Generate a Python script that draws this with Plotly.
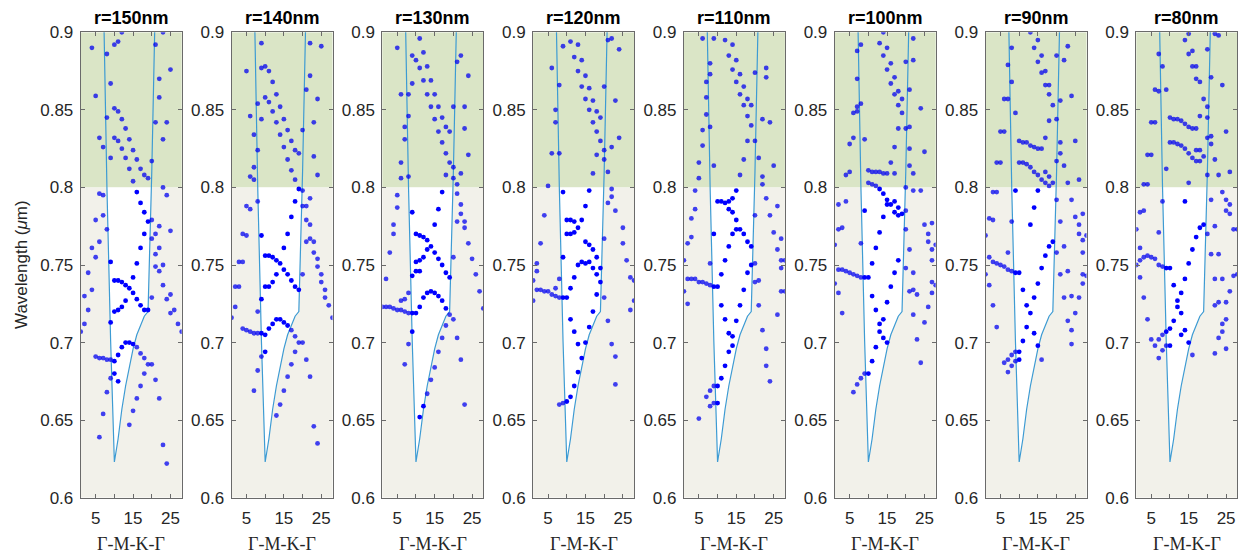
import numpy as np
import plotly.graph_objects as go

# ---------------- data ----------------
K = [1, 2, 3, 4, 5, 6, 7, 8, 9, 10, 11, 12, 13, 14, 15, 16, 17, 18, 19, 20,
     21, 22, 23, 24, 25, 26, 27, 28]
RADII = ["r=150nm", "r=140nm", "r=130nm", "r=120nm", "r=110nm", "r=100nm", "r=90nm", "r=80nm"]

# wavelengths (um) of the bands at each k-point (index = K)
lam_r150 = [
    [0.707], [0.730, 0.712], [0.745, 0.721], [0.890, 0.761, 0.734],
    [0.859, 0.779, 0.755, 0.691], [0.832, 0.796, 0.765, 0.690, 0.639],
    [0.826, 0.795, 0.782, 0.690, 0.654], [0.886, 0.845, 0.773, 0.689, 0.668],
    [0.867, 0.819, 0.752, 0.713, 0.689, 0.677],
    [0.892, 0.851, 0.832, 0.740, 0.720, 0.688, 0.680],
    [0.894, 0.849, 0.830, 0.740, 0.721, 0.692, 0.675],
    [0.900, 0.844, 0.825, 0.739, 0.723, 0.697],
    [0.838, 0.819, 0.737, 0.727, 0.700], [0.831, 0.812, 0.735, 0.700, 0.647],
    [0.824, 0.804, 0.742, 0.732, 0.699, 0.656], [0.818, 0.797, 0.751, 0.728, 0.697, 0.664],
    [0.812, 0.790, 0.761, 0.724, 0.693, 0.672], [0.808, 0.784, 0.770, 0.721, 0.690, 0.680],
    [0.806, 0.778, 0.721, 0.686], [0.817, 0.779, 0.767, 0.729, 0.686],
    [0.892, 0.842, 0.770, 0.757, 0.749, 0.676], [0.870, 0.858, 0.775, 0.761, 0.746, 0.664],
    [0.900, 0.831, 0.800, 0.750, 0.737, 0.634], [0.842, 0.795, 0.728, 0.622],
    [0.876, 0.772, 0.731, 0.719], [0.721], [0.712], [0.707]]

lam_r140 = [
    [0.716], [0.736, 0.723], [0.752, 0.736], [0.770, 0.752, 0.709],
    [0.875, 0.788, 0.769, 0.708], [0.846, 0.807, 0.786, 0.707],
    [0.834, 0.813, 0.805, 0.706, 0.669], [0.854, 0.824, 0.791, 0.720, 0.706, 0.682],
    [0.893, 0.877, 0.844, 0.769, 0.728, 0.706, 0.691],
    [0.878, 0.858, 0.756, 0.736, 0.705, 0.694], [0.875, 0.855, 0.756, 0.736, 0.709],
    [0.868, 0.849, 0.755, 0.739, 0.712], [0.860, 0.842, 0.753, 0.744, 0.715, 0.653],
    [0.852, 0.834, 0.751, 0.715, 0.660], [0.844, 0.826, 0.761, 0.747, 0.713, 0.669],
    [0.837, 0.818, 0.770, 0.744, 0.711, 0.678], [0.830, 0.811, 0.781, 0.740, 0.708, 0.686],
    [0.824, 0.805, 0.791, 0.736, 0.704, 0.694], [0.822, 0.799, 0.734, 0.700],
    [0.837, 0.798, 0.788, 0.744, 0.700], [0.863, 0.788, 0.779, 0.765, 0.689],
    [0.893, 0.872, 0.793, 0.776, 0.767, 0.678], [0.842, 0.820, 0.765, 0.758, 0.646],
    [0.857, 0.808, 0.754, 0.749, 0.635], [0.891, 0.744, 0.739], [0.734, 0.729],
    [0.724], [0.716]]

lam_r130 = [
    [0.723], [0.741, 0.723], [0.758, 0.723], [0.776, 0.770, 0.722],
    [0.890, 0.795, 0.787, 0.721], [0.860, 0.816, 0.806, 0.727, 0.721],
    [0.839, 0.831, 0.728, 0.720, 0.686], [0.860, 0.846, 0.807, 0.732, 0.719, 0.699],
    [0.885, 0.867, 0.784, 0.743, 0.719, 0.707], [0.882, 0.770, 0.752, 0.746, 0.719],
    [0.896, 0.877, 0.769, 0.753, 0.746, 0.723, 0.652],
    [0.887, 0.869, 0.768, 0.755, 0.729, 0.659], [0.878, 0.860, 0.766, 0.760, 0.732, 0.667],
    [0.869, 0.852, 0.762, 0.733, 0.676], [0.860, 0.844, 0.776, 0.758, 0.732, 0.684],
    [0.852, 0.836, 0.786, 0.754, 0.730, 0.694], [0.845, 0.829, 0.797, 0.750, 0.727, 0.703],
    [0.839, 0.822, 0.808, 0.745, 0.722, 0.711], [0.836, 0.816, 0.742, 0.718],
    [0.852, 0.813, 0.806, 0.755, 0.715], [0.881, 0.802, 0.796, 0.778, 0.703],
    [0.885, 0.809, 0.789, 0.783, 0.689], [0.852, 0.838, 0.778, 0.774, 0.660],
    [0.872, 0.821, 0.764], [0.754], [0.744], [0.733], [0.722]]

lam_r120 = [
    [0.740, 0.727], [0.751, 0.746, 0.734], [0.764, 0.734], [0.782, 0.733],
    [0.801, 0.733], [0.877, 0.822, 0.731], [0.850, 0.842, 0.735, 0.730],
    [0.866, 0.822, 0.741, 0.729, 0.660], [0.891, 0.797, 0.755, 0.729, 0.661],
    [0.779, 0.770, 0.729, 0.662], [0.894, 0.779, 0.770, 0.735, 0.715, 0.665],
    [0.884, 0.778, 0.771, 0.742, 0.707, 0.672], [0.892, 0.875, 0.774, 0.750, 0.699, 0.681],
    [0.882, 0.865, 0.779, 0.752, 0.690], [0.872, 0.857, 0.788, 0.765, 0.751, 0.700],
    [0.864, 0.850, 0.798, 0.763, 0.752, 0.710], [0.856, 0.842, 0.809, 0.760, 0.748, 0.720],
    [0.849, 0.836, 0.821, 0.755, 0.744, 0.731], [0.845, 0.830, 0.748, 0.739],
    [0.865, 0.824, 0.818, 0.767, 0.729], [0.895, 0.810, 0.790, 0.714],
    [0.896, 0.826, 0.799, 0.794, 0.699], [0.856, 0.785, 0.691, 0.673], [0.889, 0.832],
    [0.774, 0.764], [0.753], [0.742, 0.721], [0.740, 0.727]]

lam_r110 = [
    [0.753, 0.733], [0.764, 0.741, 0.725], [0.780, 0.768, 0.741], [0.798, 0.786, 0.741],
    [0.816, 0.806, 0.739, 0.651], [0.896, 0.837, 0.827, 0.739],
    [0.868, 0.858, 0.847, 0.738, 0.665], [0.880, 0.873, 0.839, 0.751, 0.737, 0.669, 0.659],
    [0.896, 0.814, 0.770, 0.736, 0.672, 0.661], [0.791, 0.736, 0.672, 0.661],
    [0.791, 0.744, 0.724, 0.677], [0.895, 0.790, 0.753, 0.715, 0.685],
    [0.885, 0.791, 0.786, 0.762, 0.706, 0.694], [0.892, 0.876, 0.793, 0.784, 0.770, 0.704, 0.698],
    [0.882, 0.868, 0.798, 0.779, 0.773, 0.714], [0.873, 0.860, 0.808, 0.773, 0.724],
    [0.865, 0.853, 0.818, 0.770, 0.734], [0.857, 0.846, 0.830, 0.765, 0.745],
    [0.853, 0.840, 0.762, 0.750], [0.874, 0.830, 0.782, 0.751, 0.739], [0.819, 0.740, 0.724],
    [0.844, 0.807, 0.802, 0.708], [0.877, 0.871, 0.793, 0.696, 0.685], [0.842, 0.782, 0.675],
    [0.814, 0.771], [0.788, 0.760, 0.718], [0.767, 0.753, 0.748, 0.733], [0.753, 0.733]]

lam_r100 = [
    [0.763, 0.738], [0.789, 0.773, 0.747, 0.732], [0.774, 0.747, 0.719], [0.808, 0.791, 0.746],
    [0.828, 0.810, 0.745], [0.848, 0.832, 0.744, 0.668], [0.888, 0.870, 0.852, 0.849, 0.743, 0.673],
    [0.892, 0.854, 0.764, 0.742, 0.677], [0.831, 0.785, 0.742, 0.680], [0.811, 0.803, 0.742, 0.680],
    [0.810, 0.802, 0.751, 0.730, 0.688], [0.810, 0.801, 0.761, 0.721, 0.697],
    [0.893, 0.810, 0.799, 0.771, 0.712, 0.707], [0.900, 0.885, 0.809, 0.796, 0.781, 0.715, 0.703],
    [0.890, 0.876, 0.809, 0.792, 0.789, 0.726, 0.700], [0.880, 0.867, 0.816, 0.789, 0.736],
    [0.871, 0.860, 0.826, 0.809, 0.791, 0.784, 0.745], [0.862, 0.853, 0.838, 0.787, 0.782, 0.753],
    [0.857, 0.848, 0.783], [0.881, 0.838, 0.800, 0.785, 0.773, 0.748],
    [0.863, 0.839, 0.825, 0.814, 0.760, 0.733], [0.896, 0.882, 0.809, 0.798, 0.745, 0.734, 0.718],
    [0.731, 0.702], [0.851, 0.798, 0.687], [0.823, 0.776, 0.713], [0.770, 0.765, 0.723],
    [0.777, 0.760, 0.753, 0.739, 0.732], [0.763, 0.737]]

lam_r90 = [
    [0.769, 0.744], [0.780, 0.755, 0.737], [0.797, 0.779, 0.752, 0.724], [0.816, 0.797, 0.751, 0.710],
    [0.836, 0.816, 0.750], [0.857, 0.836, 0.749, 0.687], [0.879, 0.857, 0.758, 0.747, 0.689, 0.681],
    [0.890, 0.868, 0.778, 0.746, 0.692, 0.685], [0.848, 0.798, 0.745, 0.694, 0.688],
    [0.830, 0.816, 0.745, 0.694, 0.689], [0.829, 0.816, 0.734, 0.701], [0.829, 0.815, 0.724, 0.710],
    [0.900, 0.827, 0.813, 0.776, 0.719], [0.890, 0.826, 0.810, 0.787, 0.729, 0.706],
    [0.895, 0.881, 0.825, 0.808, 0.798, 0.738, 0.698], [0.885, 0.874, 0.825, 0.805, 0.748, 0.689],
    [0.875, 0.866, 0.832, 0.810, 0.803, 0.756], [0.866, 0.860, 0.843, 0.807, 0.801, 0.762],
    [0.853, 0.803, 0.765], [0.885, 0.844, 0.817, 0.792, 0.758], [0.856, 0.829, 0.822, 0.778, 0.744],
    [0.882, 0.814, 0.762, 0.729], [0.891, 0.803, 0.746, 0.714], [0.859, 0.792, 0.730, 0.708, 0.699],
    [0.830, 0.781, 0.719], [0.805, 0.776, 0.770, 0.729], [0.783, 0.766, 0.758, 0.744, 0.738],
    [0.769, 0.743]]

lam_r80 = [
    [0.773, 0.750], [0.784, 0.761, 0.753, 0.742], [0.802, 0.785, 0.755, 0.729],
    [0.821, 0.802, 0.756, 0.715], [0.842, 0.821, 0.755, 0.702], [0.863, 0.842, 0.754, 0.698],
    [0.886, 0.862, 0.771, 0.750, 0.702, 0.690], [0.878, 0.791, 0.749, 0.705, 0.695],
    [0.863, 0.812, 0.748, 0.707, 0.698], [0.845, 0.829, 0.748, 0.709, 0.698],
    [0.844, 0.829, 0.737, 0.714], [0.844, 0.828, 0.727, 0.723], [0.843, 0.827, 0.732, 0.719, 0.705],
    [0.895, 0.841, 0.825, 0.791, 0.741, 0.708], [0.899, 0.886, 0.839, 0.822, 0.803, 0.751, 0.700],
    [0.888, 0.878, 0.838, 0.819, 0.760, 0.692], [0.878, 0.870, 0.838, 0.824, 0.817, 0.768],
    [0.868, 0.846, 0.824, 0.817, 0.774], [0.857, 0.820, 0.776],
    [0.889, 0.852, 0.845, 0.832, 0.808, 0.770], [0.871, 0.833, 0.828, 0.792, 0.757],
    [0.899, 0.818, 0.775, 0.741, 0.724, 0.693], [0.898, 0.808, 0.757, 0.726, 0.703],
    [0.866, 0.797, 0.741, 0.712, 0.707], [0.836, 0.792, 0.785, 0.726, 0.715, 0.696],
    [0.810, 0.789, 0.783, 0.733], [0.773, 0.743], [0.773, 0.744]]

PANELS = [lam_r150, lam_r140, lam_r130, lam_r120, lam_r110, lam_r100, lam_r90, lam_r80]

# light line (Gamma-M-K-Gamma), wavelength at k-points
LL_K = [7, 8, 9, 10, 11, 12, 13, 14, 15, 16, 17, 18, 19, 20, 21]
LL_W = [0.934, 0.801, 0.701, 0.623, 0.638, 0.657, 0.672, 0.685, 0.696, 0.705,
        0.711, 0.717, 0.720, 0.810, 0.926]

Y_MIN, Y_MAX = 0.6, 0.9
BAND_EDGE = 0.8
Y_TICKS = [0.6, 0.65, 0.7, 0.75, 0.8, 0.85, 0.9]
Y_TICKTEXT = ["0.6", "0.65", "0.7", "0.75", "0.8", "0.85", "0.9"]
X_TICKS = [5, 10, 15, 20, 25]
X_TICKTEXT = ["5", "", "15", "", "25"]

# ---------------- styling ----------------
PAGE_OFF = 8                      # default body margin of the html page
W, H = 1247 - PAGE_OFF, 556 - PAGE_OFF
LEFT0, STEP, PW = 80.7 - PAGE_OFF, 150.8, 101.0
Y_BOT_PX, Y_TOP_PX = 497.7 - PAGE_OFF, 32.3 - PAGE_OFF
GREEN = "#DAE5C6"
BEIGE = "#F2F1EA"
LINE_C = "#3D9BD3"
AX_C = "#262626"
FRAME_C = "#6a6a6a"
SANS = "Liberation Sans, Arial, sans-serif"
SERIF = "Liberation Serif, Times New Roman, serif"

ll_k = np.array(LL_K, float)
ll_w = np.array(LL_W, float)
ll_map = dict(zip(LL_K, LL_W))
imin = int(np.argmin(ll_w))
xl = float(np.interp(BAND_EDGE, ll_w[:imin + 1][::-1], ll_k[:imin + 1][::-1]))
xr = float(np.interp(BAND_EDGE, ll_w[imin:], ll_k[imin:]))
mask = ll_w < BAND_EDGE
poly_x = [xl] + list(ll_k[mask]) + [xr]
poly_y = [BAND_EDGE] + list(ll_w[mask]) + [BAND_EDGE]

fig = go.Figure()
ydom = [1 - Y_BOT_PX / H, 1 - Y_TOP_PX / H]
annotations = []
shapes = []

for i, (name, lam) in enumerate(zip(RADII, PANELS)):
    n = i + 1
    xa = "x" if n == 1 else f"x{n}"
    ya = "y" if n == 1 else f"y{n}"
    x0 = (LEFT0 + STEP * i) / W
    x1 = min(1.0, (LEFT0 + STEP * i + PW) / W)

    # background bands
    shapes.append(dict(type="rect", xref=f"{xa} domain", yref=ya, x0=0, x1=1,
                       y0=BAND_EDGE, y1=Y_MAX, fillcolor=GREEN, line_width=0, layer="below"))
    shapes.append(dict(type="rect", xref=f"{xa} domain", yref=ya, x0=0, x1=1,
                       y0=Y_MIN, y1=BAND_EDGE, fillcolor=BEIGE, line_width=0, layer="below"))

    fig.add_trace(go.Scatter(x=poly_x, y=poly_y, fill="toself", fillcolor="white",
                             mode="none", xaxis=xa, yaxis=ya, showlegend=False, hoverinfo="skip"))
    fig.add_trace(go.Scatter(x=LL_K, y=LL_W, mode="lines", line=dict(color=LINE_C, width=1.2),
                             xaxis=xa, yaxis=ya, showlegend=False))

    kin, win, kout, wout = [], [], [], []
    for k, vals in zip(K, lam):
        lk = ll_map.get(k, np.inf)
        for v in vals:
            if v < BAND_EDGE and v > lk:
                kin.append(k); win.append(v)
            else:
                kout.append(k); wout.append(v)
    fig.add_trace(go.Scatter(x=kout, y=wout, mode="markers",
                             marker=dict(color="rgba(0,0,240,0.74)", size=4.8, line_width=0),
                             xaxis=xa, yaxis=ya, showlegend=False))
    fig.add_trace(go.Scatter(x=kin, y=win, mode="markers",
                             marker=dict(color="rgb(0,0,255)", size=4.8, line_width=0),
                             xaxis=xa, yaxis=ya, showlegend=False))

    axis_common = dict(showline=True, linecolor=FRAME_C, linewidth=1, mirror="ticks",
                       ticks="inside", ticklen=4, tickcolor=FRAME_C, showgrid=False,
                       zeroline=False, automargin=False,
                       tickfont=dict(family=SANS, size=17, color=AX_C))
    fig.update_layout(**{
        ("xaxis" if n == 1 else f"xaxis{n}"): dict(
            domain=[x0, x1], anchor=ya, range=[1, 28], tickmode="array",
            tickvals=X_TICKS, ticktext=X_TICKTEXT, ticklabelstandoff=5, **axis_common),
        ("yaxis" if n == 1 else f"yaxis{n}"): dict(
            domain=ydom, anchor=xa, range=[Y_MIN, Y_MAX], tickmode="array",
            tickvals=Y_TICKS, ticktext=Y_TICKTEXT, ticklabelstandoff=3, **axis_common),
    })

    xc = (x0 + x1) / 2
    annotations.append(dict(text=f"<b>{name}</b>", x=xc, y=1 - (18 - PAGE_OFF) / H,
                            xref="paper", yref="paper",
                            showarrow=False, xanchor="center", yanchor="middle",
                            font=dict(family=SANS, size=18, color="#000000")))
    annotations.append(dict(text="Γ-M-K-Γ", x=xc, y=1 - (544 - PAGE_OFF) / H,
                            xref="paper", yref="paper",
                            showarrow=False, xanchor="center", yanchor="middle",
                            font=dict(family=SERIF, size=18, color=AX_C)))

annotations.append(dict(text="Wavelength (<i>μ</i>m)", x=(21 - PAGE_OFF) / W,
                        y=1 - (265 - PAGE_OFF) / H, xref="paper",
                        yref="paper", showarrow=False, textangle=-90, xanchor="center",
                        yanchor="middle", font=dict(family=SANS, size=17, color=AX_C)))

fig.update_layout(width=W, height=H, margin=dict(l=0, r=0, t=0, b=0),
                  paper_bgcolor="white", plot_bgcolor="white",
                  shapes=shapes, annotations=annotations, showlegend=False)

fig.write_html("out.html")
